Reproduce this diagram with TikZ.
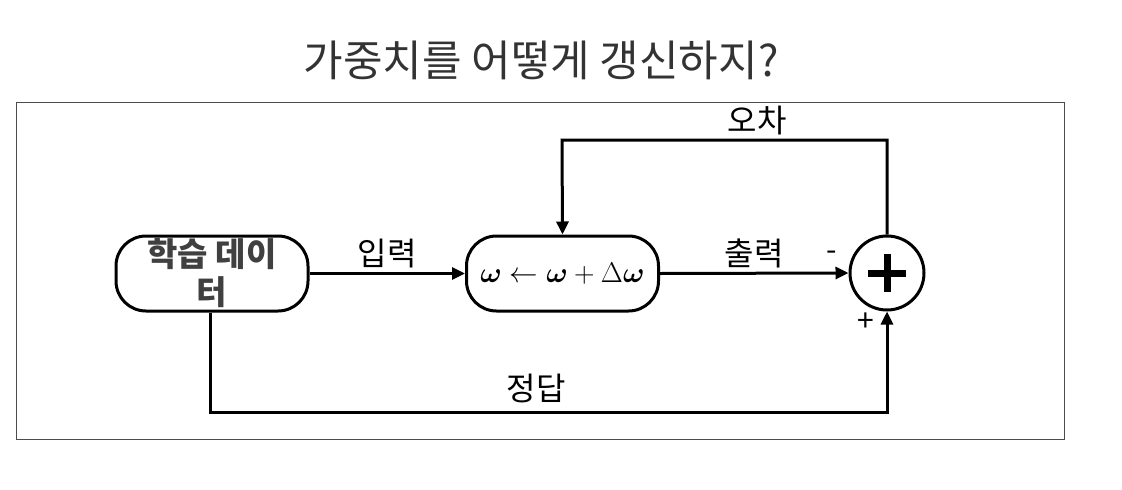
\RequirePackage{fix-cm}
\documentclass[tikz,border=0pt]{standalone}
\usepackage{fontspec}
\usepackage{amsmath,bm}
\newfontfamily\kr{Noto Sans CJK KR}
\usetikzlibrary{arrows.meta}
\definecolor{titlegray}{HTML}{333333}
\definecolor{boxtext}{HTML}{404040}
\begin{document}
\begin{tikzpicture}[x=1pt,y=-1pt,
  blockbox/.style={draw=black,line width=3pt,rounded corners=30pt,minimum width=192pt,minimum height=75pt,inner sep=0pt,align=center},
  arr/.style={line width=3pt,-{Triangle[length=13pt,width=12pt]}},
  lab/.style={font=\kr\fontsize{32}{34}\selectfont,text=black,inner sep=0pt}]
\useasboundingbox (0,0) rectangle (1122,490);
\draw[line width=1pt,draw=black!70] (16,102) rectangle (1064,439);
\node[font=\kr\fontsize{43}{46}\selectfont,text=titlegray] (title) at (541,60) {가중치를 어떻게 갱신하지?};
\node[blockbox,font=\kr\bfseries\fontsize{33}{38}\selectfont,text=boxtext] (data) at (212,273.5) {학습 데이\\터};
\node[blockbox,font={\fontsize{28.5}{32}\selectfont}] (upd) at (562.5,273.5) {$\bm{\omega}\leftarrow\bm{\omega}+\Delta\bm{\omega}$};
\node[draw=black,line width=3pt,circle,minimum size=74pt,inner sep=0pt] (sum) at (887,273) {};
\draw[line width=7pt] (sum.center) ++(-19,0) -- ++(38,0);
\draw[line width=7pt] (sum.center) ++(0,-19) -- ++(0,38);
\draw[arr] (data.east) -- (upd.west) node[lab,midway,above=4pt] {입력};
\draw[arr] (upd.east) -- (sum.west) node[lab,midway,above=4pt] {출력};
\node[lab,font=\kr\fontsize{30}{32}\selectfont] (minus) at (832,256) {-};
\node[lab,font=\kr\fontsize{30}{32}\selectfont] (plus) at (866,322) {+};
\coordinate (tr) at (887,140);
\coordinate (tl) at (562,140);
\draw[arr] (sum.north) -- (tr) -- (tl) -- (upd.north);
\node[lab] (err) at (757,121) {오차};
\coordinate (bl) at (210,412);
\coordinate (br) at (887,412);
\draw[arr] (data.south -| bl) -- (bl) -- (br) -- (sum.south);
\node[lab] (ans) at (536,388) {정답};
\end{tikzpicture}
\end{document}
